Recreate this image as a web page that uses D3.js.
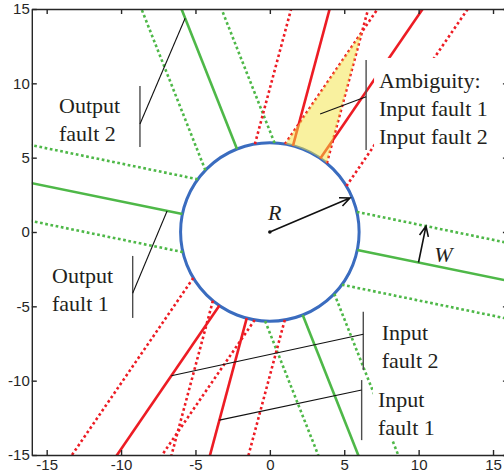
<!DOCTYPE html>
<html>
<head>
<meta charset="utf-8">
<script src="https://cdn.jsdelivr.net/npm/d3@7"></script>
<style>
  body { margin: 0; background: #fff; }
  svg { display: block; }
  .axis text { font-family: 'Liberation Sans', Arial, sans-serif; font-size: 15px; fill: #262626; }
  .axis path, .axis line { stroke: #262626; stroke-width: 1.4; }
  .note { font-family: 'Liberation Serif', 'Times New Roman', serif; font-size: 22px; fill: #231f20; }
  .sym { font-family: 'Liberation Serif', 'Times New Roman', serif; font-size: 22px; font-style: italic; fill: #231f20; }
</style>
</head>
<body>
<svg id="chart"></svg>
<script>
//data
const faultNames = ['Output fault 1', 'Output fault 2', 'Input fault 1', 'Input fault 2'];
const faultAngles = [-11.6, -68.4, 75.0, 55.6];  //direction of each fault line through the origin (deg)
const faultTypes = ['output', 'output', 'input', 'input'];
const radius = 6;      //R
const bandHalf = 2.5;  //W
const xTicks = [-15, -10, -5, 0, 5, 10, 15];
const yTicks = [-15, -10, -5, 0, 5, 10, 15];

const width = 504, height = 476;
const plot = { left: 31.8, right: 507.9, top: 9, bottom: 455 };

//scales
const xScale = d3.scaleLinear().domain([-16, 16]).range([plot.left, plot.right]);
const yScale = d3.scaleLinear().domain([-15, 15]).range([plot.bottom, plot.top]);

const colors = { output: '#4eb848', input: '#ed1c24', circle: '#3a6cbf' };

const svg = d3.select('#chart')
  .attr('width', width)
  .attr('height', height);

svg.append('defs').append('clipPath').attr('id', 'plotclip')
  .append('rect')
    .attr('x', plot.left).attr('y', plot.top)
    .attr('width', plot.right - plot.left).attr('height', plot.bottom - plot.top);

//geometry helpers (data units)
const rad = d => d * Math.PI / 180;
const dirOf = i => [Math.cos(rad(faultAngles[i])), Math.sin(rad(faultAngles[i]))];
const nrmOf = i => { const d = dirOf(i); return [-d[1], d[0]]; };
const along = (i, off, t) => {
  const d = dirOf(i), n = nrmOf(i);
  return [off * n[0] + t * d[0], off * n[1] + t * d[1]];
};

const line = d3.line()
  .x(p => xScale(p[0]))
  .y(p => yScale(p[1]));

const plotG = svg.append('g').attr('clip-path', 'url(#plotclip)');

//circle
plotG.append('circle')
  .attr('cx', xScale(0))
  .attr('cy', yScale(0))
  .attr('r', xScale(radius) - xScale(0))
  .attr('fill', '#fff')
  .attr('stroke', colors.circle)
  .attr('stroke-width', 3);

//fault lines: centre line + two band edges, outside the circle only
const segs = [];
faultAngles.forEach((a, i) => {
  [-bandHalf, 0, bandHalf].forEach(off => {
    const s = Math.sqrt(radius * radius - off * off);
    segs.push({ i, off, pts: [along(i, off, s), along(i, off, 40)] });
    segs.push({ i, off, pts: [along(i, off, -s), along(i, off, -40)] });
  });
});

plotG.append('g')
  .selectAll('path')
  .data(segs)
  .enter()
  .append('path')
    .attr('d', d => line(d.pts))
    .attr('fill', 'none')
    .attr('stroke', d => colors[faultTypes[d.i]])
    .attr('stroke-width', 2.6)
    .attr('stroke-dasharray', d => d.off === 0 ? null : (faultTypes[d.i] === 'input' ? '2.6 2.7' : '2.7 2.6'));

//annotations
const notes = [
  { lines: ['Output', 'fault 2'], tx: -14.17, ty: 8.0, bx: -8.73, by: [9.82, 5.72], from: 7.26, to: along(1, 0, -15.47), padTop: 22 },
  { lines: ['Output', 'fault 1'], tx: -14.64, ty: -3.43, bx: -9.22, by: [-1.61, -5.78], from: -4.12, to: along(0, 0, -7.05), padTop: 22 },
  { lines: ['Ambiguity:', 'Input fault 1', 'Input fault 2'], tx: 7.34, ty: 9.69, bx: 6.47, by: [11.57, 5.52], from: 9.1, to: [3.38, 7.93], padTop: 30 },
  { lines: ['Input', 'fault 2'], tx: 7.52, ty: -7.26, bx: 6.28, by: [-5.36, -9.28], from: -6.88, to: along(3, 0, -11.72), padTop: 20 },
  { lines: ['Input', 'fault 1'], tx: 7.27, ty: -11.77, bx: 6.17, by: [-9.96, -14.0], from: -10.63, to: along(2, 0, -13.1), padTop: 30 }
];

const leaders = svg.append('g');
notes.forEach(n => {
  leaders.append('line')
    .attr('x1', xScale(n.bx)).attr('y1', yScale(n.by[0]))
    .attr('x2', xScale(n.bx)).attr('y2', yScale(n.by[1]))
    .attr('stroke', '#4d4d4d').attr('stroke-width', 1.4);
  leaders.append('line')
    .attr('x1', xScale(n.bx)).attr('y1', yScale(n.from))
    .attr('x2', xScale(n.to[0])).attr('y2', yScale(n.to[1]))
    .attr('stroke', '#111').attr('stroke-width', 1.1);
});

//ambiguity patch: overlap of the two input bands, upper side, outside the circle
const iA = 3, iB = 2;
const nA = nrmOf(iA), nB = nrmOf(iB);
function meet(a, b) {
  const det = nA[0] * nB[1] - nA[1] * nB[0];
  return [(a * nB[1] - nA[1] * b) / det, (nA[0] * b - nB[0] * a) / det];
}
let best = null;
[-1, 1].forEach(sa => [-1, 1].forEach(sb => {
  const v = meet(sa * bandHalf, sb * bandHalf);
  if (!best || v[1] > best.v[1]) best = { v, sa, sb };
}));
const sEdge = Math.sqrt(radius * radius - bandHalf * bandHalf);
const p1 = along(iA, best.sa * bandHalf, sEdge);
const p2 = along(iB, best.sb * bandHalf, sEdge);
const a1 = Math.atan2(p1[1], p1[0]), a2 = Math.atan2(p2[1], p2[0]);
const arcPts = d3.range(0, 1.0001, 1 / 30).map(k => {
  const a = a2 + (a1 - a2) * k;
  return [radius * Math.cos(a), radius * Math.sin(a)];
});
plotG.append('path')
  .attr('d', line([p1, best.v, p2].concat(arcPts)) + 'Z')
  .attr('fill', '#f3e43f')
  .attr('fill-opacity', 0.5)
  .attr('stroke', 'none');

//annotation texts with white boxes
const lineGap = 28;
notes.forEach(n => {
  const g = svg.append('g');
  const rect = g.append('rect').attr('fill', '#fff');
  const t = g.append('text')
    .attr('class', 'note')
    .attr('x', xScale(n.tx))
    .attr('y', yScale(n.ty));
  n.lines.forEach((s, k) => {
    t.append('tspan')
      .attr('x', xScale(n.tx))
      .attr('dy', k === 0 ? 0 : lineGap)
      .text(s);
  });
  const bb = t.node().getBBox();
  const top = yScale(n.ty) - n.padTop;
  const bottom = yScale(n.ty) + lineGap * (n.lines.length - 1) + 5;
  rect.attr('x', bb.x - 5).attr('y', top)
    .attr('width', bb.width + 10).attr('height', bottom - top);
});

//arrows R and W
function arrow(from, to) {
  const x1 = xScale(from[0]), y1 = yScale(from[1]);
  const x2 = xScale(to[0]), y2 = yScale(to[1]);
  const ang = Math.atan2(y2 - y1, x2 - x1);
  const L = 11, spread = rad(24);
  const p = d3.path();
  p.moveTo(x1, y1); p.lineTo(x2, y2);
  p.moveTo(x2 - L * Math.cos(ang - spread), y2 - L * Math.sin(ang - spread));
  p.lineTo(x2, y2);
  p.lineTo(x2 - L * Math.cos(ang + spread), y2 - L * Math.sin(ang + spread));
  svg.append('path')
    .attr('d', p.toString())
    .attr('fill', 'none')
    .attr('stroke', '#111')
    .attr('stroke-width', 1.6);
}
const rAngle = 23;
arrow([0, 0], [radius * 0.975 * Math.cos(rad(rAngle)), radius * 0.975 * Math.sin(rad(rAngle))]);
const wBase = along(0, 0, 10.2);
arrow(wBase, along(0, bandHalf, 10.2));

svg.append('circle')
  .attr('cx', xScale(0)).attr('cy', yScale(0)).attr('r', 1.8)
  .attr('fill', '#111');

svg.append('text').attr('class', 'sym')
  .attr('x', xScale(-0.12)).attr('y', yScale(0.81)).text('R');
svg.append('text').attr('class', 'sym')
  .attr('x', xScale(11.05)).attr('y', yScale(-2.02)).text('W');

//axes (inward ticks, box)
svg.append('g')
  .attr('class', 'axis')
  .attr('transform', 'translate(0,' + plot.bottom + ')')
  .call(d3.axisBottom(xScale).tickValues(xTicks).tickSize(-5).tickSizeOuter(0).tickPadding(4).tickFormat(d => d));
svg.append('g')
  .attr('class', 'axis')
  .attr('transform', 'translate(0,' + plot.top + ')')
  .call(d3.axisTop(xScale).tickValues(xTicks).tickSize(-5).tickSizeOuter(0).tickFormat(''));
svg.append('g')
  .attr('class', 'axis')
  .attr('transform', 'translate(' + plot.left + ',0)')
  .call(d3.axisLeft(yScale).tickValues(yTicks).tickSize(-5).tickSizeOuter(0).tickPadding(2).tickFormat(d => d));
svg.append('g')
  .attr('class', 'axis')
  .attr('transform', 'translate(' + plot.right + ',0)')
  .call(d3.axisRight(yScale).tickValues(yTicks).tickSize(-5).tickSizeOuter(0).tickFormat(''));
</script>
</body>
</html>
